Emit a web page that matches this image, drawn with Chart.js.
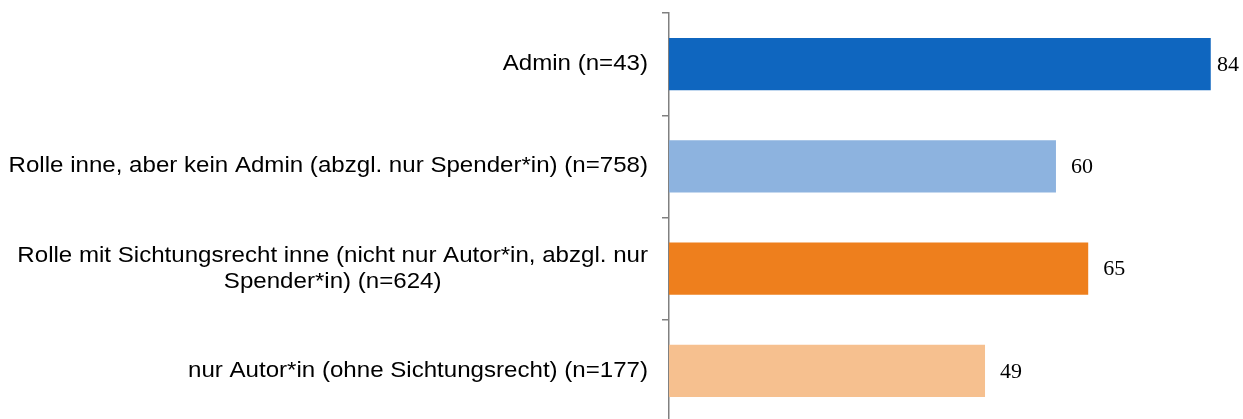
<!DOCTYPE html>
<html>
<head>
<meta charset="utf-8">
<script src="https://cdn.jsdelivr.net/npm/chart.js@4/dist/chart.umd.min.js"></script>
<style>
  html, body { margin: 0; padding: 0; background: #fff; overflow: hidden; }
  #wrap { position: relative; width: 1243px; height: 422px; }
</style>
</head>
<body>
<div id="wrap"><canvas id="roleChart"></canvas></div>
<script>
// categories, values and colours of the bars
const categories = [
  ['Admin (n=43)'],
  ['Rolle inne, aber kein Admin (abzgl. nur Spender*in) (n=758)'],
  ['Rolle mit Sichtungsrecht inne (nicht nur Autor*in, abzgl. nur', 'Spender*in) (n=624)'],
  ['nur Autor*in (ohne Sichtungsrecht) (n=177)']
];
const values = [84, 60, 65, 49];
const barColors = ['#0F66BF', '#8DB3DF', '#EE7F1D', '#F6C08F'];

const AXIS_LEFT = 669;
const labelFont = '22px "Liberation Sans", Arial, sans-serif';
const labelStretch = 1.095; // the labels are a bit wider than plain Arial
const valueFont = '22px "Liberation Serif", "Times New Roman", serif';

// draws the category labels left of the axis (multi-line labels are centred as a block)
const categoryLabels = {
  id: 'categoryLabels',
  afterDraw(chart) {
    const ctx = chart.ctx;
    const y = chart.scales.y;
    const right = AXIS_LEFT - 21;
    const lineH = 26;
    ctx.save();
    ctx.font = labelFont;
    ctx.fillStyle = '#000';
    ctx.textBaseline = 'middle';
    ctx.textAlign = 'center';
    categories.forEach((lines, i) => {
      const cy = y.getPixelForValue(i);
      const w = Math.max(...lines.map(l => ctx.measureText(l).width)) * labelStretch;
      const top = cy - (lines.length - 1) * lineH / 2;
      lines.forEach((l, j) => {
        ctx.save();
        ctx.translate(right - w / 2, top + j * lineH);
        ctx.scale(labelStretch, 1);
        ctx.fillText(l, 0, 0);
        ctx.restore();
      });
    });
    ctx.restore();
  }
};

// value labels after each bar end
const valueLabels = {
  id: 'valueLabels',
  afterDatasetsDraw(chart) {
    const ctx = chart.ctx;
    const meta = chart.getDatasetMeta(0);
    ctx.save();
    ctx.font = valueFont;
    ctx.fillStyle = '#000';
    ctx.textBaseline = 'middle';
    ctx.textAlign = 'left';
    meta.data.forEach((bar, i) => {
      const txt = String(values[i]);
      const w = ctx.measureText(txt).width;
      let x = bar.x + 15;
      x = Math.min(x, chart.width - w - 4);
      ctx.fillText(txt, x, bar.y + 1);
    });
    ctx.restore();
  }
};

new Chart(document.getElementById('roleChart'), {
  type: 'bar',
  data: {
    labels: categories,
    datasets: [{
      data: values,
      backgroundColor: barColors,
      borderWidth: 0,
      categoryPercentage: 1,
      barPercentage: 0.51
    }]
  },
  options: {
    indexAxis: 'y',
    responsive: true,
    maintainAspectRatio: false,
    animation: false,
    layout: { padding: { top: 13, right: 0, bottom: 0, left: 0 } },
    plugins: { legend: { display: false }, tooltip: { enabled: false } },
    scales: {
      x: { display: false, min: 0, max: 89 },
      y: {
        ticks: { display: false },
        border: { color: '#808080', width: 1.5 },
        grid: { offset: true, drawOnChartArea: false, drawTicks: true, tickLength: 7, color: '#808080', lineWidth: 1.5 },
        afterFit(scale) { scale.width = AXIS_LEFT; }
      }
    }
  },
  plugins: [categoryLabels, valueLabels]
});
</script>
</body>
</html>
